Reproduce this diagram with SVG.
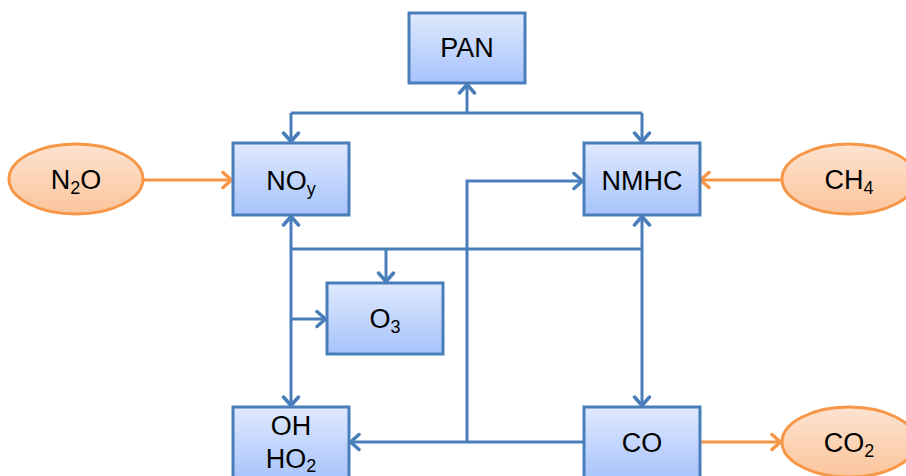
<svg xmlns="http://www.w3.org/2000/svg" width="906" height="476" viewBox="0 0 906 476">
<defs>
<linearGradient id="gb" x1="0" y1="0" x2="0" y2="1">
<stop offset="0" stop-color="#DFE9FE"/>
<stop offset="1" stop-color="#A6C3FB"/>
</linearGradient>
<linearGradient id="go" x1="0" y1="0" x2="0" y2="1">
<stop offset="0" stop-color="#FDE3D0"/>
<stop offset="1" stop-color="#FBC59C"/>
</linearGradient>
<marker id="ab" viewBox="0 0 20 20" refX="11" refY="10" markerWidth="20" markerHeight="20" markerUnits="userSpaceOnUse" orient="auto">
<path d="M2,2.5 L10.5,10 L2,17.5" fill="none" stroke="#4A7EBB" stroke-width="3.5" stroke-linecap="round" stroke-linejoin="round"/>
</marker>
<marker id="ao" viewBox="0 0 20 20" refX="11" refY="10" markerWidth="20" markerHeight="20" markerUnits="userSpaceOnUse" orient="auto">
<path d="M2,2.5 L10.5,10 L2,17.5" fill="none" stroke="#F79646" stroke-width="3.5" stroke-linecap="round" stroke-linejoin="round"/>
</marker>
</defs>
<style>
.box{fill:url(#gb);stroke:#4A7EBB;stroke-width:3}
.ell{fill:url(#go);stroke:#F79646;stroke-width:3}
.t{font-family:"Liberation Sans",Arial,sans-serif;font-size:27px;fill:#000;text-anchor:middle}
.s{font-size:18px}
.cb{fill:none;stroke:#4A7EBB;stroke-width:3}
.cba{fill:none;stroke:#4A7EBB;stroke-width:3;marker-end:url(#ab)}
.coa{fill:none;stroke:#F79646;stroke-width:3;marker-end:url(#ao)}
</style>
<g id="connectors">
<path class="cba" d="M467,113 V84"/>
<path class="cb" d="M291,113 H642"/>
<path class="cba" d="M291,113 V142"/>
<path class="cba" d="M642,113 V142"/>
<path class="coa" d="M143,180 H232"/>
<path class="coa" d="M782,180 H700"/>
<path class="cb" d="M291,249 H642"/>
<path class="cba" d="M291,249 V216"/>
<path class="cba" d="M291,249 V406"/>
<path class="cba" d="M642,249 V216"/>
<path class="cba" d="M642,249 V406"/>
<path class="cba" d="M386,249 V282"/>
<path class="cba" d="M291,319 H326"/>
<path class="cba" d="M584,442 H350"/>
<path class="cba" d="M467,442 V181 H583"/>
<path class="coa" d="M700,442 H781"/>
</g>
<g id="PAN"><rect class="box" x="409" y="13" width="116" height="70"/><text class="t" x="467" y="57">PAN</text></g>
<g id="NOy"><rect class="box" x="233" y="143" width="116" height="72"/><text class="t" x="291" y="190">NO<tspan class="s" dy="5">y</tspan></text></g>
<g id="NMHC"><rect class="box" x="584" y="143" width="116" height="72"/><text class="t" x="642" y="190">NMHC</text></g>
<g id="O3"><rect class="box" x="327" y="283" width="116" height="71"/><text class="t" x="385" y="328">O<tspan class="s" dy="5">3</tspan></text></g>
<g id="OH"><rect class="box" x="233" y="407" width="116" height="74"/><text class="t" x="291" y="435">OH</text><text class="t" x="291" y="468">HO<tspan class="s" dy="4">2</tspan></text></g>
<g id="CO"><rect class="box" x="584" y="407" width="116" height="74"/><text class="t" x="642" y="452">CO</text></g>
<g id="N2O"><ellipse class="ell" cx="76" cy="179" rx="67" ry="35"/><text class="t" x="76" y="189">N<tspan class="s" dy="5">2</tspan><tspan dy="-5">O</tspan></text></g>
<g id="CH4"><ellipse class="ell" cx="849" cy="179" rx="67" ry="35"/><text class="t" x="849" y="189">CH<tspan class="s" dy="5">4</tspan></text></g>
<g id="CO2"><ellipse class="ell" cx="849" cy="442" rx="67" ry="35"/><text class="t" x="849" y="452">CO<tspan class="s" dy="5">2</tspan></text></g>
</svg>
